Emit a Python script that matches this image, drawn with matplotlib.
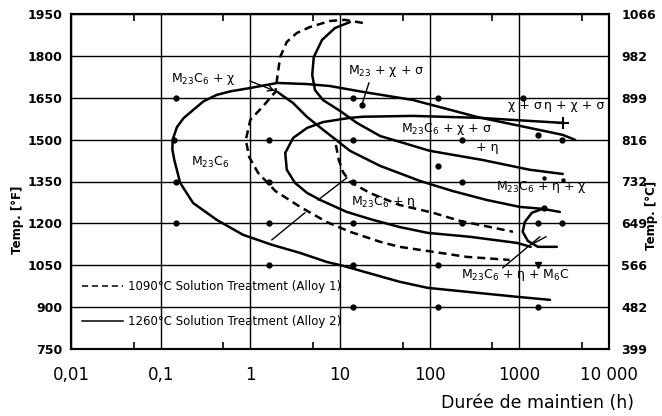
import matplotlib.pyplot as plt
from matplotlib.lines import Line2D

# holding time (h) / temperature (degF)
# solid = 1260 C solution treatment (alloy 2), dashed = 1090 C (alloy 1)
a2_m23c6_t = [4200, 3050, 1300, 340, 65, 18, 7.7, 4.3, 2.0, 1.0, 0.6, 0.42, 0.3, 0.23, 0.18,
              0.152, 0.136, 0.135, 0.142, 0.165, 0.23, 0.42, 0.83, 1.75, 3.6, 7.1, 10.8, 46,
              95, 940, 2200]
a2_m23c6_f = [1499, 1517, 1542, 1581, 1642, 1671, 1692, 1699, 1703, 1685, 1673, 1660, 1637,
              1606, 1577, 1545, 1500, 1465, 1427, 1345, 1273, 1213, 1159, 1123, 1094, 1062,
              1048, 991, 969, 937, 926]

a2_chi_t = [12.9, 8.8, 6.3, 5.1, 4.9, 5.25, 6.45, 10, 15.4, 28, 100, 390, 1310, 3050]
a2_chi_f = [1921, 1900, 1857, 1796, 1732, 1678, 1642, 1603, 1560, 1513, 1460, 1427, 1392, 1377]

a2_eta_t = [3050, 1300, 360, 65, 18, 12.9, 6.5, 4.3, 3.0, 2.45, 2.55, 3.15, 4.3, 6.0, 11.9,
            23, 46, 95, 280, 940, 1340]
a2_eta_f = [1560, 1567, 1578, 1585, 1582, 1578, 1563, 1542, 1506, 1452, 1392, 1345, 1309, 1284,
            1241, 1213, 1187, 1166, 1152, 1130, 1116]

a2_mid_t = [2.0, 3.0, 4.3, 6.5, 10, 12.9, 28, 78, 180, 430, 1010, 1830, 2830]
a2_mid_f = [1671, 1631, 1581, 1535, 1488, 1460, 1406, 1352, 1316, 1284, 1259, 1252, 1241]

a2_m6c_t = [1920, 1380, 1150, 1090, 1245, 1610, 2620]
a2_m6c_f = [1255, 1238, 1205, 1170, 1137, 1116, 1116]

a1_m23c6_t = [18, 11.3, 7.7, 4.6, 3.3, 2.55, 2.15, 2.0, 1.9, 1.4, 1.0, 0.89, 0.97, 1.22, 1.9,
              3.6, 7.1, 12.9, 28, 46, 110, 260, 780]
a1_m23c6_f = [1918, 1929, 1925, 1903, 1882, 1850, 1796, 1724, 1671, 1621, 1571, 1499, 1438,
              1381, 1316, 1259, 1205, 1170, 1134, 1116, 1098, 1080, 1069]

a1_eta_t = [9.0, 9.7, 10.8, 12.9, 21.5, 46, 109, 217, 850]
a1_eta_f = [1481, 1427, 1384, 1349, 1309, 1266, 1238, 1209, 1170]

# test points
dots_t = [0.15, 0.14, 0.15, 0.15, 1.6, 1.6, 1.6, 1.6, 14, 14, 14, 14, 14, 14,
          123, 123, 123, 123, 230, 230, 230, 1100, 1600, 3000, 1600, 3000, 1600, 1900, 17.5]
dots_f = [1650, 1500, 1350, 1200, 1500, 1350, 1200, 1050, 1650, 1500, 1350, 1200, 1050, 900,
          1650, 1405, 1050, 900, 1500, 1350, 1200, 1650, 1515, 1500, 1200, 1200, 900, 1255, 1624]
small_dots_t = [1900, 3050]
small_dots_f = [1363, 1356]

# leader lines (start, end)
leaders_t = [(21, 17.5), (5.7, 11.9), (1.74, 4.06), (655, 1693), (1415, 1980)]
leaders_f = [(1703, 1624), (1284, 1363), (1141, 1238), (1041, 1152), (1127, 1152)]

temp_f_ticks = [750, 900, 1050, 1200, 1350, 1500, 1650, 1800, 1950]
temp_c_labels = ['399', '482', '566', '649', '732', '816', '899', '982', '1066']
time_ticks = [0.01, 0.1, 1, 10, 100, 1000, 10000]
time_labels = ['0,01', '0,1', '1', '10', '100', '1000', '10 000']
minor_ticks = [0.05, 0.5, 5, 50, 500, 5000]

legend_labels = ['1090°C Solution Treatment (Alloy 1)', '1260°C Solution Treatment (Alloy 2)']

narrow = ['Liberation Sans Narrow', 'DejaVu Sans']
dash = (0, (3.2, 2.0))

fig = plt.figure(figsize=(6.62, 4.16), dpi=100)
ax = fig.add_axes([71 / 662, 1 - 349 / 416, 538 / 662, 335 / 416])
ax.set_xscale('log')
ax.set_xlim(0.01, 10000)
ax.set_ylim(750, 1950)

for y in temp_f_ticks:
    ax.axhline(y, color='k', lw=1.0, zorder=1)
for x in time_ticks:
    ax.axvline(x, color='k', lw=1.0, zorder=1)

kw = dict(color='k', lw=1.8, solid_capstyle='round', solid_joinstyle='round', zorder=3)
ax.plot(a2_m23c6_t, a2_m23c6_f, **kw)
ax.plot(a2_chi_t, a2_chi_f, **kw)
ax.plot(a2_eta_t, a2_eta_f, **kw)
ax.plot(a2_mid_t, a2_mid_f, **kw)
ax.plot(a2_m6c_t, a2_m6c_f, **kw)
ax.plot(a1_m23c6_t, a1_m23c6_f, color='k', lw=1.8, ls=dash, zorder=3)
ax.plot(a1_eta_t, a1_eta_f, color='k', lw=1.8, ls=dash, zorder=3)
ax.plot(a2_eta_t[0], a2_eta_f[0], marker='+', color='k', ms=9, mew=1.5, zorder=4)

for lt, lf in zip(leaders_t, leaders_f):
    ax.plot(lt, lf, color='k', lw=1.0, zorder=3)
ax.annotate('', xy=(2.0, 1671), xytext=(0.92, 1714),
            arrowprops=dict(arrowstyle='->', lw=1.0, color='k'))

ax.plot(dots_t, dots_f, 'o', color='k', ms=3.5, zorder=4)
ax.plot(small_dots_t, small_dots_f, 'o', color='k', ms=2.2, zorder=4)
ax.plot(1600, 1050, 'v', color='k', ms=4, zorder=4)

lab = dict(fontsize=9, ha='center', va='center', color='k')
ax.text(0.296, 1717, 'M$_{23}$C$_6$ + χ', **lab)
ax.text(0.355, 1417, 'M$_{23}$C$_6$', **lab)
ax.text(32.5, 1746, 'M$_{23}$ + χ + σ', **lab)
ax.text(1151, 1621, 'χ + σ', **lab)
ax.text(4100, 1621, 'η + χ + σ', **lab)
ax.text(152, 1538, 'M$_{23}$C$_6$ + χ + σ', **lab)
ax.text(434, 1470, '+ η', **lab)
ax.text(1782, 1331, 'M$_{23}$C$_6$ + η + χ', **lab)
ax.text(30, 1277, 'M$_{23}$C$_6$ + η', **lab)
ax.text(915, 1016, 'M$_{23}$C$_6$ + η + M$_6$C', **lab)

handles = [Line2D([], [], color='k', lw=1.1, ls=(0, (4, 2.5))),
           Line2D([], [], color='k', lw=1.1)]
ax.legend(handles, legend_labels, loc='upper left', bbox_to_anchor=(0.02, 0.205),
          frameon=False, fontsize=8.5, handlelength=3.5, handletextpad=0.45,
          labelspacing=1.85, borderpad=0, borderaxespad=0)

ax.set_xticks(time_ticks)
ax.set_xticklabels(time_labels, fontsize=12)
ax.set_xticks(minor_ticks, minor=True)
ax.xaxis.set_minor_formatter(plt.NullFormatter())
ax.tick_params(axis='x', which='major', length=0, pad=12)
ax.tick_params(axis='x', which='minor', direction='in', length=5, width=1.2, top=True)
ax.set_yticks(temp_f_ticks)
ax.set_yticklabels([str(v) for v in temp_f_ticks], fontsize=9, fontweight='bold',
                   family=narrow)
ax.tick_params(axis='y', length=0, pad=6)

ax2 = ax.twinx()
ax2.set_ylim(ax.get_ylim())
ax2.set_yticks(temp_f_ticks)
ax2.set_yticklabels(temp_c_labels, fontsize=9, fontweight='bold', family=narrow)
ax2.tick_params(axis='y', length=0, pad=9)

for a in (ax, ax2):
    for s in a.spines.values():
        s.set_linewidth(1.5)

fig.text(18 / 662, 1 - 220 / 416, 'Temp. [°F]', rotation=90, ha='center', va='center',
         fontsize=8.5, fontweight='bold', family=narrow)
fig.text(652 / 662, 1 - 215 / 416, 'Temp. [°C]', rotation=90, ha='center', va='center',
         fontsize=8.5, fontweight='bold', family=narrow)
fig.text(634 / 662, 1 - 403 / 416, 'Durée de maintien (h)', ha='right', va='center',
         fontsize=12.5)

fig.savefig('out.png', dpi=100)
